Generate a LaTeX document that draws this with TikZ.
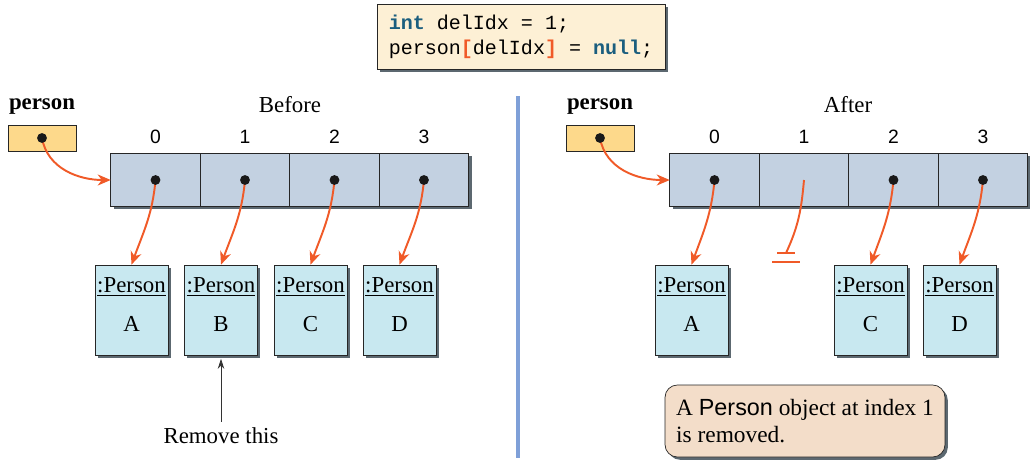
\documentclass[tikz,border=0pt]{standalone}
\usepackage{fontspec}
\setmainfont{Liberation Serif}
\setsansfont{Liberation Sans}
\setmonofont{Liberation Mono}
\usepackage{xcolor}
\usetikzlibrary{arrows.meta,positioning,shadows}
\definecolor{ptrred}{HTML}{F05A28}
\definecolor{kwblue}{HTML}{1B5E7E}
\definecolor{codefill}{HTML}{FDF0D5}
\definecolor{reffill}{HTML}{FDD98B}
\definecolor{cellfill}{HTML}{C3D1E1}
\definecolor{objfill}{HTML}{C8E8F0}
\definecolor{notefill}{HTML}{F3DDC9}
\definecolor{divblue}{HTML}{7FA0D8}
\definecolor{shadowgray}{HTML}{5C6870}

\begin{document}
\begin{tikzpicture}[
  x=0.02cm, y=-0.02cm, node distance=0pt,
  font=\fontsize{13}{15.5}\selectfont,
  boxshadow/.style={drop shadow={shadow xshift=1.6pt, shadow yshift=-1.6pt, fill=shadowgray, opacity=1}},
  cell/.style={draw=black!85, fill=cellfill, minimum width=1.79cm, minimum height=1.06cm, inner sep=0pt, outer sep=0pt, boxshadow},
  refbox/.style={draw=black!85, fill=reffill, minimum width=1.36cm, minimum height=0.52cm, inner sep=0pt},
  objbox/.style={draw=black!85, fill=objfill, minimum width=1.46cm, minimum height=1.8cm, inner sep=1pt, align=center, text depth=6pt, boxshadow},
  codebox/.style={draw=black!85, fill=codefill, minimum width=5.76cm, minimum height=1.3cm, align=left, boxshadow,
    font=\ttfamily\fontsize{11.4}{14.2}\selectfont},
  note/.style={draw=black!85, fill=notefill, rounded corners=7pt, minimum width=5.6cm, minimum height=1.44cm, align=left, boxshadow,
    font=\fontsize{13.3}{15.3}\selectfont},
  idx/.style={font=\sffamily\fontsize{11}{13}\selectfont, inner sep=1pt},
  ptr/.style={ptrred, line width=1.1pt, -{Stealth[length=2.6mm, width=2.2mm, inset=0.8mm]}},
  nullbar/.style={ptrred, line width=1.1pt},
  divider/.style={divblue, line width=2.8pt}]
  \useasboundingbox (0,0) rectangle (1030,460);
  % code being run
  \node[codebox] (code) at (521,37) {\textcolor{kwblue}{\textbf{int}} delIdx = 1;\\person\textcolor{ptrred}{\textbf{[}}delIdx\textcolor{ptrred}{\textbf{]}} = \textcolor{kwblue}{\textbf{null}};};
  % Before
  \node (bname) at (42,107) {\textbf{person}};
  \node (btitle) at (290,105) {Before};
  \node[refbox] (bref) at (42,138) {};
  \node[cell] (b0) at (155.5,180) {};
  \node[cell, right=of b0] (b1) {};
  \node[cell, right=of b1] (b2) {};
  \node[cell, right=of b2] (b3) {};
  \node[idx, above=1.6mm of b0] (bi0) {0}; \node[idx, above=1.6mm of b1] (bi1) {1};
  \node[idx, above=1.6mm of b2] (bi2) {2}; \node[idx, above=1.6mm of b3] (bi3) {3};
  \node[objbox] (bA) at (131.5,310) {\underline{:Person}\\[7pt]A};
  \node[objbox] (bB) at (221,310) {\underline{:Person}\\[7pt]B};
  \node[objbox] (bC) at (310.5,310) {\underline{:Person}\\[7pt]C};
  \node[objbox] (bD) at (399.5,310) {\underline{:Person}\\[7pt]D};
  \node (remove) at (221,436) {Remove this};
  \draw[ptr] (bref.center) to[out=-80, in=180] (b0.west);
  \draw[ptr] (b0.center) to[out=-95, in=70] (bA.north);
  \draw[ptr] (b1.center) to[out=-95, in=70] (bB.north);
  \draw[ptr] (b2.center) to[out=-95, in=70] (bC.north);
  \draw[ptr] (b3.center) to[out=-95, in=70] (bD.north);
  \draw[black!80, thin, -{Stealth[length=2mm, width=1.3mm]}, shorten >=2pt] (remove.north) -- (bB.south);
  \foreach \c in {bref,b0,b1,b2,b3} \fill[black!90] (\c.center) circle (2.8pt);
  % divider
  \coordinate (divtop) at (518,96); \coordinate (divbot) at (518,458);
  \draw[divider] (divtop) -- (divbot);
  % After
  \node (aname) at (600,107) {\textbf{person}};
  \node (atitle) at (848,105) {After};
  \node[refbox] (aref) at (600,138) {};
  \node[cell] (a0) at (714.5,180) {};
  \node[cell, right=of a0] (a1) {};
  \node[cell, right=of a1] (a2) {};
  \node[cell, right=of a2] (a3) {};
  \node[idx, above=1.6mm of a0] (ai0) {0}; \node[idx, above=1.6mm of a1] (ai1) {1};
  \node[idx, above=1.6mm of a2] (ai2) {2}; \node[idx, above=1.6mm of a3] (ai3) {3};
  \node[objbox] (aA) at (691.5,310) {\underline{:Person}\\[7pt]A};
  \node[objbox] (aC) at (870.5,310) {\underline{:Person}\\[7pt]C};
  \node[objbox] (aD) at (959.5,310) {\underline{:Person}\\[7pt]D};
  \coordinate (gnd) at (786,253);
  \draw[ptr] (aref.center) to[out=-80, in=180] (a0.west);
  \draw[ptr] (a0.center) to[out=-95, in=70] (aA.north);
  \draw[nullbar] (a1.center) to[out=-95, in=65] (gnd);
  \draw[nullbar] (gnd) ++(-9,0) -- ++(18,0);
  \draw[nullbar] (gnd) ++(-14,9) -- ++(28,0);
  \draw[ptr] (a2.center) to[out=-95, in=70] (aC.north);
  \draw[ptr] (a3.center) to[out=-95, in=70] (aD.north);
  \foreach \c in {aref,a0,a2,a3} \fill[black!90] (\c.center) circle (2.8pt);
  \node[note] (msg) at (805,421) {A \textsf{Person} object at index 1\\is removed.};
\end{tikzpicture}
\end{document}
